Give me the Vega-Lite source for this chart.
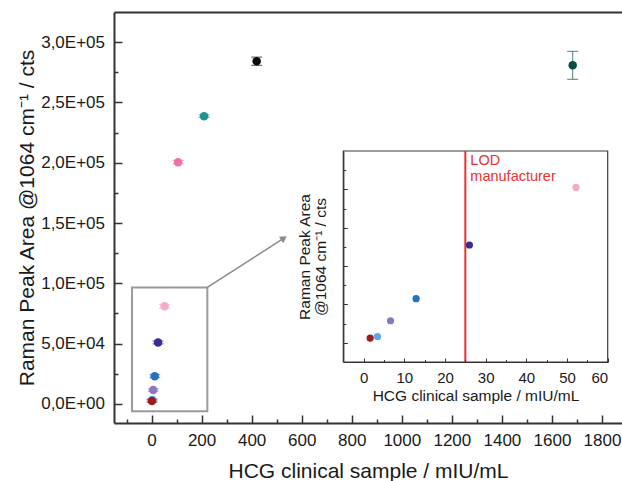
{
  "$schema": "https://vega.github.io/schema/vega-lite/v6.json",
  "width": 508,
  "height": 411,
  "autosize": {"type": "none"},
  "padding": {"left": 114, "top": 12, "right": 0, "bottom": 58},
  "background": "white",
  "config": {
    "view": {"stroke": null},
    "font": "Liberation Sans",
    "axis": {
      "grid": false,
      "labelFont": "Liberation Sans",
      "titleFont": "Liberation Sans",
      "titleFontWeight": "normal",
      "labelColor": "#1a1a1a",
      "titleColor": "#1a1a1a",
      "domainColor": "#333333",
      "tickColor": "#333333"
    }
  },
  "datasets": {
    "pts": [
      {"s": "b", "x": 3.4, "y": 3300, "lo": 2300, "hi": 4300},
      {"s": "a", "x": 1.6, "y": 2500, "lo": 1500, "hi": 3500},
      {"s": "c", "x": 6.6, "y": 11500, "lo": 10500, "hi": 12500},
      {"s": "d", "x": 12.9, "y": 23000, "lo": 21800, "hi": 24200},
      {"s": "e", "x": 26, "y": 51000, "lo": 49800, "hi": 52200},
      {"s": "f", "x": 52.2, "y": 81000, "lo": 79500, "hi": 82500},
      {"s": "g", "x": 106, "y": 200500, "lo": 199000, "hi": 202000},
      {"s": "h", "x": 210, "y": 238600, "lo": 237600, "hi": 239600},
      {"s": "i", "x": 420, "y": 284200, "lo": 280800, "hi": 287600},
      {"s": "j", "x": 1683, "y": 280800, "lo": 269200, "hi": 292400}
    ],
    "box": [{"x": -78, "x2": 223, "y": -6050, "y2": 96600}],
    "arrow": [{"x": 223, "y": 96600, "x2": 529, "y2": 137480}],
    "head": [{"x": 529, "y": 137480}],
    "frame": [{"x": -5, "x2": 60, "y": -10000, "y2": 100000}],
    "lod": [{"x": 25, "y": -10000, "y2": 100000, "t": "LOD\nmanufacturer", "ty": 95000}]
  },
  "layer": [
    {
      "encoding": {
        "x": {"field": "x", "type": "quantitative", "scale": {"domain": [-150, 1880], "nice": false, "zero": false}, "axis": null},
        "y": {"field": "y", "type": "quantitative", "scale": {"domain": [-15800, 325000], "nice": false, "zero": false}, "axis": null}
      },
      "layer": [
        {
          "data": {"name": "box"},
          "mark": {"type": "rect", "fillOpacity": 0, "stroke": "#9a9a9a", "strokeWidth": 2},
          "encoding": {
            "x": {"field": "x", "type": "quantitative", "scale": {"domain": [-150, 1880], "nice": false, "zero": false},
              "axis": {"orient": "bottom", "values": [-100, 100, 300, 500, 700, 900, 1100, 1300, 1500, 1700], "labels": false, "domain": false, "tickSize": -4, "tickWidth": 1.5, "title": null}},
            "x2": {"field": "x2"},
            "y": {"field": "y", "type": "quantitative", "scale": {"domain": [-15800, 325000], "nice": false, "zero": false},
              "axis": {"orient": "left", "values": [25000, 75000, 125000, 175000, 225000, 275000], "labels": false, "domain": false, "tickSize": -4, "tickWidth": 1.5, "title": null}},
            "y2": {"field": "y2"}
          }
        },
        {
          "data": {"name": "arrow"},
          "mark": {"type": "rule", "stroke": "#8a8a8a", "strokeWidth": 1.5},
          "encoding": {
            "x": {"field": "x", "type": "quantitative", "scale": {"domain": [-150, 1880], "nice": false, "zero": false},
              "axis": {"orient": "top", "ticks": false, "labels": false, "domain": true, "domainWidth": 2, "title": null}},
            "x2": {"field": "x2"},
            "y2": {"field": "y2"}
          }
        },
        {
          "data": {"name": "head"},
          "mark": {"type": "point", "shape": "triangle-right", "filled": true, "color": "#8a8a8a", "size": 60, "angle": 327, "opacity": 1},
          "encoding": {}
        },
        {
          "data": {"name": "pts"},
          "mark": {"type": "rule", "strokeWidth": 1, "opacity": 0.7},
          "encoding": {
            "y": {"field": "lo", "type": "quantitative", "axis": null},
            "y2": {"field": "hi"},
            "color": {"field": "s", "type": "nominal", "legend": null,
              "scale": {"domain": ["a","b","c","d","e","f","g","h","i","j"], "range": ["#9b1b1f","#5aa9e6","#8d78c2","#2471bf","#3b2b8e","#f5a9cb","#ef70a7","#1e958f","#0a0a0a","#0b4a46"]}}
          }
        },
        {
          "data": {"name": "pts"},
          "mark": {"type": "tick", "orient": "horizontal", "size": 11, "thickness": 1, "opacity": 0.7},
          "encoding": {
            "y": {"field": "lo", "type": "quantitative", "axis": null},
            "color": {"field": "s", "type": "nominal", "legend": null,
              "scale": {"domain": ["a","b","c","d","e","f","g","h","i","j"], "range": ["#9b1b1f","#5aa9e6","#8d78c2","#2471bf","#3b2b8e","#f5a9cb","#ef70a7","#1e958f","#0a0a0a","#0b4a46"]}}
          }
        },
        {
          "data": {"name": "pts"},
          "mark": {"type": "tick", "orient": "horizontal", "size": 11, "thickness": 1, "opacity": 0.7},
          "encoding": {
            "y": {"field": "hi", "type": "quantitative", "axis": null},
            "color": {"field": "s", "type": "nominal", "legend": null,
              "scale": {"domain": ["a","b","c","d","e","f","g","h","i","j"], "range": ["#9b1b1f","#5aa9e6","#8d78c2","#2471bf","#3b2b8e","#f5a9cb","#ef70a7","#1e958f","#0a0a0a","#0b4a46"]}}
          }
        },
        {
          "data": {"name": "pts"},
          "mark": {"type": "circle", "size": 72, "opacity": 1},
          "encoding": {
            "x": {"field": "x", "type": "quantitative", "scale": {"domain": [-150, 1880], "nice": false, "zero": false},
              "axis": {"orient": "bottom", "values": [0, 200, 400, 600, 800, 1000, 1200, 1400, 1600, 1800], "format": "d", "tickSize": -8, "tickWidth": 1.5, "domainWidth": 2, "labelFontSize": 17, "labelPadding": 17,
                "title": "HCG clinical sample / mIU/mL", "titleFontSize": 21, "titleBaseline": "alphabetic", "titleY": 54}},
            "y": {"field": "y", "type": "quantitative", "scale": {"domain": [-15800, 325000], "nice": false, "zero": false},
              "axis": {"orient": "left", "values": [0, 50000, 100000, 150000, 200000, 250000, 300000], "tickSize": -8, "tickWidth": 1.5, "domainWidth": 2, "labelFontSize": 17, "labelPadding": 17.5,
                "labelExpr": "replace(replace(format(datum.value, '.1e'), '.', ','), 'e+', 'E+0')",
                "title": "Raman Peak Area @1064 cm⁻¹ / cts", "titleFontSize": 21, "titleBaseline": "alphabetic", "titleX": -81}},
            "color": {"field": "s", "type": "nominal", "legend": null,
              "scale": {"domain": ["a","b","c","d","e","f","g","h","i","j"], "range": ["#9b1b1f","#5aa9e6","#8d78c2","#2471bf","#3b2b8e","#f5a9cb","#ef70a7","#1e958f","#0a0a0a","#0b4a46"]}}
          }
        }
      ],
      "resolve": {"axis": {"x": "independent", "y": "independent"}}
    },
    {
      "encoding": {
        "x": {"field": "x", "type": "quantitative", "scale": {"domain": [-5, 60], "range": [229.3, 493.7], "nice": false, "zero": false}, "axis": null},
        "y": {"field": "y", "type": "quantitative", "scale": {"domain": [-10000, 100000], "range": [350, 139], "nice": false, "zero": false}, "axis": null}
      },
      "layer": [
        {
          "data": {"name": "frame"},
          "mark": {"type": "rect", "fill": "white", "stroke": "#3a3a3a", "strokeWidth": 1.2},
          "encoding": {
            "x": {"field": "x", "type": "quantitative", "scale": {"domain": [-5, 60], "range": [229.3, 493.7], "nice": false, "zero": false},
              "axis": {"orient": "bottom", "offset": -61, "zindex": 1, "values": [5, 15, 25, 35, 45, 55], "labels": false, "domain": false, "tickSize": -2.5, "tickWidth": 1, "title": null}},
            "x2": {"field": "x2"},
            "y": {"field": "y", "type": "quantitative", "scale": {"domain": [-10000, 100000], "range": [350, 139], "nice": false, "zero": false},
              "axis": {"orient": "left", "offset": -229.3, "zindex": 1, "values": [10000, 30000, 50000, 70000, 90000], "labels": false, "domain": false, "tickSize": -2.5, "tickWidth": 1, "title": null}},
            "y2": {"field": "y2"}
          }
        },
        {
          "data": {"name": "lod"},
          "mark": {"type": "rule", "color": "#e8322e", "strokeWidth": 2},
          "encoding": {"y2": {"field": "y2"}}
        },
        {
          "data": {"name": "lod"},
          "mark": {"type": "text", "color": "#e8322e", "align": "left", "baseline": "middle", "dx": 5, "fontSize": 14.5, "lineBreak": "\n", "lineHeight": 16.6, "font": "Liberation Sans"},
          "encoding": {
            "y": {"field": "ty", "type": "quantitative", "axis": null},
            "text": {"field": "t"}
          }
        },
        {
          "data": {"name": "pts"},
          "transform": [{"filter": "datum.x < 60"}],
          "mark": {"type": "rule", "strokeWidth": 1, "opacity": 0.6},
          "encoding": {
            "y": {"field": "lo", "type": "quantitative", "axis": null},
            "y2": {"field": "hi"},
            "color": {"field": "s", "type": "nominal", "legend": null,
              "scale": {"domain": ["a","b","c","d","e","f","g","h","i","j"], "range": ["#9b1b1f","#5aa9e6","#8d78c2","#2471bf","#3b2b8e","#f5a9cb","#ef70a7","#1e958f","#0a0a0a","#0b4a46"]}}
          }
        },
        {
          "data": {"name": "pts"},
          "transform": [{"filter": "datum.x < 60"}],
          "mark": {"type": "circle", "size": 52, "opacity": 1},
          "encoding": {
            "x": {"field": "x", "type": "quantitative", "scale": {"domain": [-5, 60], "range": [229.3, 493.7], "nice": false, "zero": false},
              "axis": {"orient": "bottom", "offset": -61, "zindex": 1, "values": [0, 10, 20, 30, 40, 50, 60], "tickSize": -4, "tickWidth": 1, "domainWidth": 1.2, "labelFontSize": 15, "labelPadding": 12.5,
                "title": "HCG clinical sample / mIU/mL", "titleFontSize": 15.5, "titleBaseline": "alphabetic", "titleY": 38}},
            "y": {"field": "y", "type": "quantitative", "scale": {"domain": [-10000, 100000], "range": [350, 139], "nice": false, "zero": false},
              "axis": {"orient": "left", "offset": -229.3, "zindex": 1, "values": [0, 20000, 40000, 60000, 80000], "labels": false, "tickSize": -4, "tickWidth": 1, "domainWidth": 1.2,
                "title": ["Raman Peak Area", "@1064 cm⁻¹ / cts"], "titleFontSize": 15.5, "titleBaseline": "alphabetic", "titleX": -34, "titleLineHeight": 16}},
            "color": {"field": "s", "type": "nominal", "legend": null,
              "scale": {"domain": ["a","b","c","d","e","f","g","h","i","j"], "range": ["#9b1b1f","#5aa9e6","#8d78c2","#2471bf","#3b2b8e","#f5a9cb","#ef70a7","#1e958f","#0a0a0a","#0b4a46"]}}
          }
        }
      ],
      "resolve": {"axis": {"x": "independent", "y": "independent"}}
    }
  ],
  "resolve": {"scale": {"x": "independent", "y": "independent"}, "axis": {"x": "independent", "y": "independent"}}
}
